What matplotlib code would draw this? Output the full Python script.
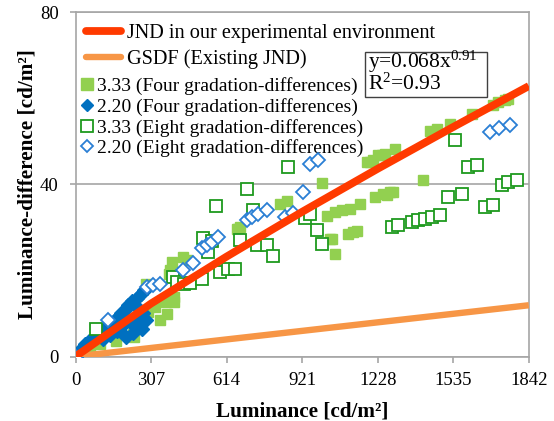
import matplotlib
matplotlib.use("Agg")
import matplotlib.pyplot as plt
from matplotlib.lines import Line2D
from matplotlib.patches import Rectangle

plt.rcParams['font.family'] = ['Liberation Serif', 'DejaVu Serif']
plt.rcParams['mathtext.fontset'] = 'custom'
plt.rcParams['mathtext.rm'] = 'Liberation Serif'
plt.rcParams['mathtext.it'] = 'Liberation Serif:italic'
plt.rcParams['mathtext.bf'] = 'Liberation Serif:bold'

# ---------------- data ----------------
x_ticks = [0, 307, 614, 921, 1228, 1535, 1842]
y_ticks = [0, 40, 80]

# JND in our experimental environment (fit line)
jnd_x = [0, 307, 614, 921, 1228, 1535, 1842]
jnd_y = [0, 12.3, 23.2, 33.6, 43.6, 53.3, 62.8]

# GSDF (Existing JND)
gsdf_x = [0, 1842]
gsdf_y = [0, 11.9]

# 3.33 (Four gradation-differences) - filled light green squares
g4_x = [0, 60, 100, 165, 232, 237, 286, 295, 323, 343, 366, 370, 381, 384, 391, 401, 402,
        438, 452, 517, 655, 661, 668, 831, 858, 1000, 1021, 1034, 1041, 1054, 1054, 1082,
        1108, 1115, 1129, 1143, 1156, 1183, 1197, 1210, 1217, 1230, 1244, 1251, 1257,
        1264, 1278, 1291, 1298, 1413, 1440, 1468, 1522, 1610, 1698, 1718, 1745, 1758]
g4_y = [0, 2.0, 3.0, 3.7, 5.3, 4.5, 16.9, 10.3, 11.5, 8.4, 12.6, 9.9, 19.2, 20.0, 22.0, 12.6, 13.8,
        23.1, 22.3, 27.5, 29.7, 29.6, 30.1, 35.5, 36.1, 40.2, 32.6, 27.2, 27.4, 33.6, 23.7, 34.0,
        28.5, 34.3, 28.9, 29.2, 35.5, 45.2, 45.2, 45.6, 37.0, 46.7, 46.7, 37.8, 47.1,
        37.4, 38.2, 38.2, 48.3, 40.9, 52.4, 52.8, 54.1, 56.4, 58.4, 59.1, 59.5, 59.9]

# 2.20 (Four gradation-differences) - filled blue diamonds
b4_x = [0, 10, 20, 30, 40, 55, 70, 85, 100, 110, 120, 130, 140, 150, 160, 170, 175, 185,
        190, 200, 205, 215, 220, 230, 235, 240, 250, 255, 265, 270, 275, 280, 285, 290, 260]
b4_y = [0, 0.8, 1.5, 2.0, 2.8, 3.5, 4.2, 4.8, 5.5, 4.0, 6.2, 7.0, 5.0, 7.6, 8.5, 6.0, 9.5, 10.0,
        7.0, 10.8, 4.5, 12.0, 8.0, 12.8, 5.5, 9.0, 13.5, 7.0, 14.5, 6.5, 10.0, 15.5, 8.5, 16.0, 11.0]

# 3.33 (Eight gradation-differences) - open green squares
g8_x = [83, 397, 411, 440, 465, 513, 519, 540, 553, 571, 587, 621, 648, 668, 698, 722, 736,
        777, 804, 865, 932, 953, 980, 1000, 1285, 1312, 1366, 1393, 1420, 1447, 1481, 1515,
        1542, 1569, 1596, 1630, 1664, 1698, 1732, 1759, 1793]
g8_y = [6.4, 18.4, 17.3, 16.8, 17.0, 18.1, 27.6, 24.2, 26.9, 34.9, 19.6, 20.4, 20.4, 27.0, 39.0, 34.0, 25.8,
        25.8, 23.3, 43.9, 32.1, 33.2, 29.3, 26.2, 30.1, 30.5, 31.2, 31.6, 32.0, 32.4, 32.8, 37.0,
        50.2, 37.8, 44.0, 44.4, 34.7, 35.1, 39.8, 40.5, 41.1]

# 2.20 (Eight gradation-differences) - open blue diamonds
b8_x = [0, 131, 289, 316, 343, 438, 479, 513, 533, 553, 580, 696, 716, 743, 777, 851, 885,
        923, 953, 987, 1684, 1720, 1765]
b8_y = [0, 8.4, 16.1, 16.5, 16.9, 20.0, 21.6, 25.1, 25.8, 26.6, 27.7, 31.6, 32.4, 33.2, 34.0, 32.4, 33.3,
        38.2, 44.8, 45.6, 52.2, 53.0, 53.8]

labels = ["JND in our experimental environment", "GSDF (Existing JND)",
          "3.33 (Four gradation-differences)", "2.20 (Four gradation-differences)",
          "3.33 (Eight gradation-differences)", "2.20 (Eight gradation-differences)"]

C_RED = '#FF3A00'
C_ORANGE = '#F79646'
C_LGREEN = '#92D050'
C_BLUE = '#0070C0'
C_DGREEN = '#1E9A1E'
C_OBLUE = '#2A7FD4'
C_GRID = '#A6A6A6'

W, H = 554, 421
fig = plt.figure(figsize=(W / 100, H / 100), dpi=100)
ax = fig.add_axes([75.5 / W, 1 - 356.5 / H, (528.8 - 75.5) / W, (356.5 - 12) / H])

ax.plot(g4_x, g4_y, 's', ms=7.5, color=C_LGREEN, mec=C_LGREEN, zorder=3)
ax.plot(b4_x, b4_y, 'D', ms=7, color=C_BLUE, mec=C_BLUE, zorder=4)
ax.plot(g8_x, g8_y, 's', ms=8, mfc='white', mec=C_DGREEN, mew=1.3, zorder=5)
ax.plot(b8_x, b8_y, 'D', ms=7, mfc='white', mec=C_OBLUE, mew=1.3, zorder=6)
ax.plot(gsdf_x, gsdf_y, '-', color=C_ORANGE, lw=4.6, solid_capstyle='butt', zorder=7)
ax.plot(jnd_x, jnd_y, '-', color=C_RED, lw=5.6, solid_capstyle='butt', zorder=8)

ax.set_xlim(0, 1842)
ax.set_ylim(0, 80)
ax.set_xticks(x_ticks)
ax.set_yticks(y_ticks)
ax.set_xticklabels([str(v) for v in x_ticks])
ax.set_yticklabels([str(v) for v in y_ticks])
for s in ax.spines.values():
    s.set_color(C_GRID)
    s.set_linewidth(1.2)
ax.yaxis.grid(True, color=C_GRID, lw=1.2)
ax.set_axisbelow(True)
ax.tick_params(axis='both', direction='out', length=4, width=1.2, color=C_GRID,
               labelsize=13.5, labelcolor='black')
ax.tick_params(axis='x', pad=7.5)
ax.tick_params(axis='y', pad=8)
ax.set_xlabel("Luminance [cd/m²]", fontsize=15.2, fontweight='bold', labelpad=8.5)
ax.set_ylabel("Luminance-difference [cd/m²]", fontsize=15.3, fontweight='bold', labelpad=1.7)

h1 = [Line2D([], [], color=C_RED, lw=5.6, solid_capstyle='round'),
      Line2D([], [], color=C_ORANGE, lw=4.6, solid_capstyle='round')]
leg1 = ax.legend(h1, labels[:2], loc='upper left', bbox_to_anchor=(86 / W, 1 - 24 / H),
                 bbox_transform=fig.transFigure, frameon=False, fontsize=14.6,
                 handlelength=1.75, handletextpad=0.27, labelspacing=0.32,
                 borderpad=0, borderaxespad=0)
ax.add_artist(leg1)
h2 = [Line2D([], [], ls='none', marker='s', ms=8.5, color=C_LGREEN),
      Line2D([], [], ls='none', marker='D', ms=6.6, color=C_BLUE),
      Line2D([], [], ls='none', marker='s', ms=8.3, mfc='white', mec=C_DGREEN, mew=1.3),
      Line2D([], [], ls='none', marker='D', ms=6.6, mfc='white', mec=C_OBLUE, mew=1.3)]
leg2 = ax.legend(h2, labels[2:], loc='upper left', bbox_to_anchor=(80 / W, 1 - 77.3 / H),
                 bbox_transform=fig.transFigure, frameon=False, fontsize=14,
                 handlelength=0.7, handletextpad=0.15, labelspacing=0.14,
                 borderpad=0, borderaxespad=0)

fig.add_artist(Rectangle((365 / W, 1 - 97 / H), (487 - 365) / W, (97 - 52) / H,
                         transform=fig.transFigure, fill=False, ec='#404040', lw=1.0))
fig.text(368 / W, 1 - 72 / H, "y=0.068x$^{0.91}$\nR$^{2}$=0.93", fontsize=15.5,
         va='center', ha='left', linespacing=0.94)

fig.savefig("out.png", dpi=100)
